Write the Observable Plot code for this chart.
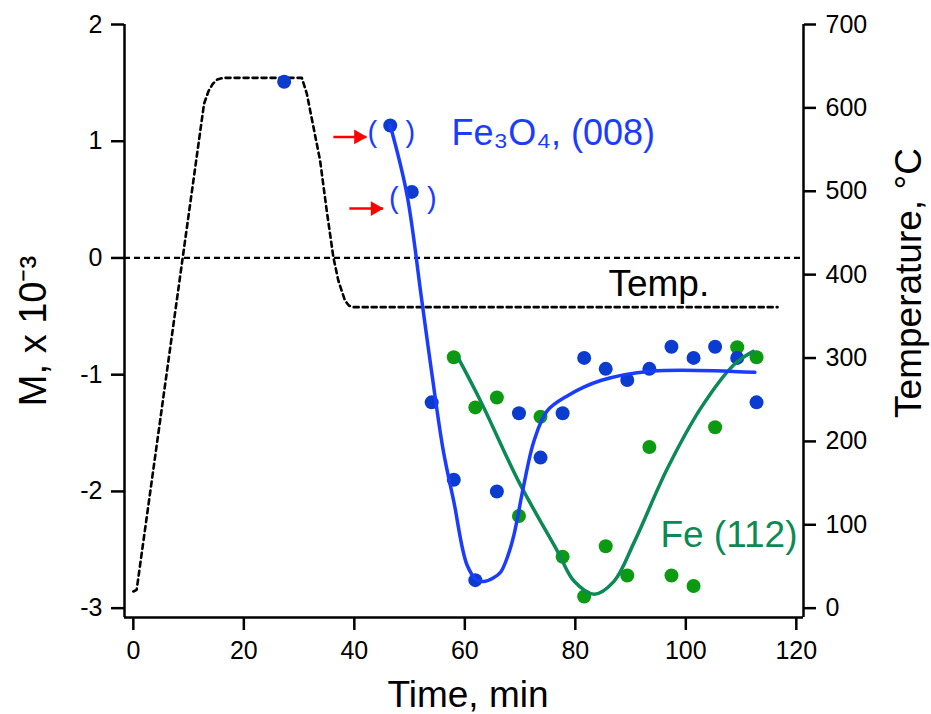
<!DOCTYPE html>
<html><head><meta charset="utf-8">
<script src="https://cdn.jsdelivr.net/npm/d3@7"></script>
<script src="https://cdn.jsdelivr.net/npm/@observablehq/plot@0.6"></script>
<style>
body{margin:0;background:#fff;}
#chart svg{display:block}
</style>
</head><body><div id="chart"></div>
<script>
// ---- data ----
const fe3o4Time = [27.3, 46.5, 50.4, 54.0, 58.0, 61.9, 65.8, 69.8, 73.7, 77.7, 81.6, 85.5, 89.4, 93.4, 97.4, 101.4, 105.3, 109.3, 112.8];
const fe3o4M    = [1.51, 1.135, 0.566, -1.237, -1.90, -2.76, -2.00, -1.33, -1.71, -1.33, -0.856, -0.95, -1.045, -0.95, -0.76, -0.856, -0.76, -0.856, -1.237];
const flaggedIdx = [1, 2];            // points shown in parentheses with red arrows
const arrowTail = [36.2, 39.1];       // min
const arrowTip  = [42.2, 45.2];       // min
const arrowM    = [1.037, 0.423];

const feTime = [58.0, 61.9, 65.8, 69.8, 73.7, 77.7, 81.6, 85.5, 89.4, 93.4, 97.4, 101.4, 105.3, 109.3, 112.8];
const feM    = [-0.85, -1.28, -1.195, -2.21, -1.36, -2.56, -2.90, -2.47, -2.72, -1.62, -2.72, -2.81, -1.45, -0.765, -0.85];

const fe3o4FitTime = [46.5, 49.5, 52.2, 54.0, 56.1, 58.0, 60.4, 62.2, 63.7, 65.2, 66.5, 67.8, 68.9, 70.7, 72.5, 74.9, 78.6, 84.6, 93.7, 112.5];
const fe3o4FitM    = [1.135, 0.55, -0.36, -0.98, -1.65, -2.085, -2.63, -2.76, -2.77, -2.74, -2.69, -2.55, -2.37, -1.94, -1.57, -1.31, -1.18, -1.05, -0.97, -0.98];

const feFitTime = [58.9, 63.0, 69.8, 76.8, 79.8, 83.4, 87.0, 90.7, 96.7, 102.8, 108.8, 112.2];
const feFitM    = [-0.865, -1.24, -1.92, -2.515, -2.77, -2.88, -2.77, -2.43, -1.80, -1.28, -0.91, -0.80];

const tempTime = [0, 0.6, 12.8, 13.6, 14.4, 15.2, 16.2, 30.5, 31.4, 32.6, 33.8, 35.0, 36.2, 37.1, 38.3, 39.0, 39.8, 116.6];
const tempC    = [20, 22, 605, 620, 629, 634, 636, 636, 617, 577, 537, 477, 421, 393, 369, 363, 361, 361];

const xTicks = [0, 20, 40, 60, 80, 100, 120];
const mTicks = [-3, -2, -1, 0, 1, 2];
const tempTicks = [0, 100, 200, 300, 400, 500, 600, 700];

// ---- scales ----
const xDomain = [-1.6, 121.3];
const yDomain = [-3.08, 2];
const tToM = T => T / 140 - 3;       // right axis: 0..700 °C  <->  -3..2 (M)
const mToT = m => Math.round((m + 3) * 140);

const blueDot = "#0b3bcf", blueLine = "#1a3cff";
const greenDot = "#0c9a12", greenLine = "#0b8a55";
const font = "'Liberation Sans', Arial, Helvetica, sans-serif";

const fe3o4 = fe3o4Time.map((t, i) => ({t, m: fe3o4M[i]}));
const fe = feTime.map((t, i) => ({t, m: feM[i]}));
const fe3o4Fit = fe3o4FitTime.map((t, i) => ({t, m: fe3o4FitM[i]}));
const feFit = feFitTime.map((t, i) => ({t, m: feFitM[i]}));
const temp = tempTime.map((t, i) => ({t, m: tToM(tempC[i])}));
const flagged = flaggedIdx.map(i => fe3o4[i]);
const arrows = arrowTail.map((t, i) => ({t1: t, t2: arrowTip[i], m: arrowM[i]}));

const chart = Plot.plot({
  width: 931, height: 714,
  marginLeft: 124, marginRight: 128, marginTop: 24, marginBottom: 97,
  style: {fontFamily: font, background: "white", overflow: "visible"},
  x: {domain: xDomain, axis: null},
  y: {domain: yDomain, axis: null},
  marks: [
    // zero line & temperature profile
    Plot.ruleY([0], {stroke: "black", strokeWidth: 2.2, strokeDasharray: "6,4"}),
    Plot.line(temp, {x: "t", y: "m", stroke: "black", strokeWidth: 2.6, strokeDasharray: "5,4"}),
    // data points
    Plot.dot(fe, {x: "t", y: "m", r: 7, fill: greenDot}),
    Plot.dot(fe3o4, {x: "t", y: "m", r: 7, fill: blueDot}),
    // fits
    Plot.line(feFit, {x: "t", y: "m", stroke: greenLine, strokeWidth: 3.5, curve: "catmull-rom"}),
    Plot.line(fe3o4Fit, {x: "t", y: "m", stroke: blueLine, strokeWidth: 3.5, curve: "catmull-rom"}),
    // parentheses around flagged points
    Plot.text(flagged, {x: "t", y: "m", text: () => "(", dx: -18, dy: 7, fontSize: 29, fill: blueLine}),
    Plot.text(flagged, {x: "t", y: "m", text: () => ")", dx: 20, dy: 7, fontSize: 29, fill: blueLine}),
    // red arrows
    Plot.link(arrows, {x1: "t1", x2: "t2", y1: "m", y2: "m", stroke: "#ff0000", strokeWidth: 2.5}),
    Plot.dot(arrows, {x: "t2", y: "m", symbol: "triangle", rotate: 90, r: 5.5, dx: -8, fill: "#ff0000"}),
    // labels
    Plot.text(["Fe₃O₄, (008)"], {x: 57.6, y: 0.966, text: d => d, textAnchor: "start", lineAnchor: "bottom", fontSize: 36, fill: blueLine}),
    Plot.text(["Temp."], {x: 86.0, y: -0.328, text: d => d, textAnchor: "start", lineAnchor: "bottom", fontSize: 37, fill: "black"}),
    Plot.text(["Fe (112)"], {x: 95.4, y: -2.48, text: d => d, textAnchor: "start", lineAnchor: "bottom", fontSize: 37, fill: greenLine}),
    // axes lines
    Plot.ruleX([xDomain[0]], {stroke: "black", strokeWidth: 2.5}),
    Plot.ruleX([xDomain[1]], {stroke: "black", strokeWidth: 2.5}),
    Plot.ruleY([yDomain[0]], {stroke: "black", strokeWidth: 2.5}),
    // axes
    Plot.axisX(xTicks, {anchor: "bottom", tickSize: 13, tickPadding: 11, fontSize: 25, strokeWidth: 2.5, label: null, tickFormat: d => String(d)}),
    Plot.axisY(mTicks, {anchor: "left", tickSize: 13, tickPadding: 9, fontSize: 25, strokeWidth: 2.5, label: null, tickFormat: d => String(d)}),
    Plot.axisY(tempTicks.map(tToM), {anchor: "right", tickSize: 12, tickPadding: 10, fontSize: 25, strokeWidth: 2.5, label: null, tickFormat: d => String(mToT(d))}),
    // axis titles
    Plot.text(["Time, min"], {frameAnchor: "bottom", text: d => d, textAnchor: "middle", dx: 4, dy: 89, lineAnchor: "bottom", fontSize: 37, fill: "black"}),
    Plot.text(["M, x 10⁻³"], {frameAnchor: "left", text: d => d, textAnchor: "middle", rotate: -90, dx: -79, dy: 10, lineAnchor: "bottom", fontSize: 38, fill: "black"}),
    Plot.text(["Temperature, °C"], {frameAnchor: "right", text: d => d, textAnchor: "middle", rotate: -90, dx: 117, dy: -38, lineAnchor: "bottom", fontSize: 37, fill: "black"})
  ]
});
document.getElementById("chart").appendChild(chart);
</script>
</body></html>
